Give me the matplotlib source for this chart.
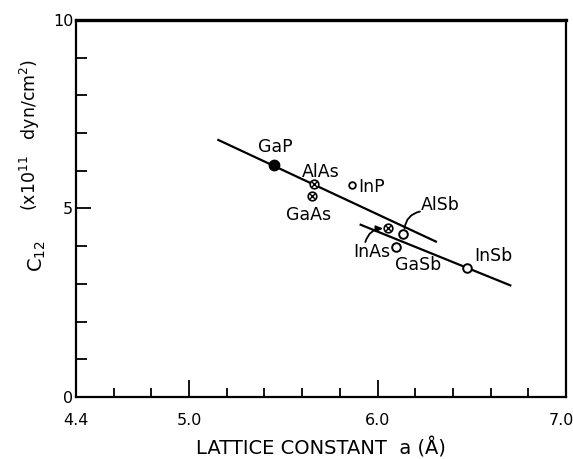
import matplotlib
matplotlib.use("Agg")
import matplotlib.pyplot as plt
from matplotlib.ticker import MultipleLocator, FixedLocator

# Lattice constant a (Angstrom) and C12 (x10^11 dyn/cm^2) for III-V compounds
compounds = ["GaP", "AlAs", "GaAs", "InP", "InAs", "AlSb", "GaSb", "InSb"]
lattice_a = [5.45, 5.665, 5.65, 5.865, 6.057, 6.135, 6.10, 6.475]
c12 = [6.15, 5.66, 5.32, 5.62, 4.47, 4.33, 3.98, 3.42]
marker_kind = ["filled", "crossed", "crossed", "small", "crossed", "open", "open", "open"]

# Trend lines (phosphides/arsenides and antimonides)
upper_line_x = [5.15, 6.315]
upper_line_y = [6.83, 4.11]
lower_line_x = [5.905, 6.71]
lower_line_y = [4.58, 2.95]

x_major = [5.0, 6.0]
x_tick_values = [4.4, 5.0, 6.0, 7.0]
x_tick_labels = ["4.4", "5.0", "6.0", "7.0"]

fig = plt.figure(figsize=(5.73, 4.59), dpi=100)
ax = fig.add_axes([76 / 573, 1 - 397 / 459, (566 - 76) / 573, (397 - 20) / 459])
ax.set_xlim(4.4, 7.0)
ax.set_ylim(0, 10)

lw = 1.6
ax.plot(upper_line_x, upper_line_y, color="black", lw=lw, solid_capstyle="butt")
ax.plot(lower_line_x, lower_line_y, color="black", lw=lw, solid_capstyle="butt")

for x, y, kind in zip(lattice_a, c12, marker_kind):
    if kind == "filled":
        ax.plot(x, y, "o", ms=7.5, color="black", zorder=5)
    elif kind == "crossed":
        ax.plot(x, y, "o", ms=6.2, mfc="white", mec="black", mew=1.2, zorder=5)
        ax.plot(x, y, "x", ms=4.0, color="black", mew=1.0, zorder=6)
    elif kind == "small":
        ax.plot(x, y, "o", ms=4.8, mfc="white", mec="black", mew=1.3, zorder=5)
    else:
        ax.plot(x, y, "o", ms=6.2, mfc="white", mec="black", mew=1.4, zorder=5)

fs = 12.5
label_pos = {
    "GaP": (5.457, 6.63, "center"),
    "AlAs": (5.70, 5.97, "center"),
    "InP": (5.90, 5.57, "left"),
    "GaAs": (5.633, 4.82, "center"),
    "AlSb": (6.232, 5.08, "left"),
    "InAs": (5.969, 3.85, "center"),
    "GaSb": (6.216, 3.49, "center"),
    "InSb": (6.614, 3.73, "center"),
}
for name in compounds:
    tx, ty, ha = label_pos[name]
    ax.text(tx, ty, name, fontsize=fs, ha=ha, va="center")

# Leader lines for the crowded labels
ax.annotate("", xy=(6.143, 4.47), xytext=(6.225, 4.92),
            arrowprops=dict(arrowstyle="-", lw=1.3, color="black",
                            connectionstyle="arc3,rad=0.35", shrinkA=0, shrinkB=0))
ax.annotate("", xy=(6.03, 4.47), xytext=(5.935, 4.11),
            arrowprops=dict(arrowstyle="-|>,head_length=0.4,head_width=0.18", lw=1.3,
                            color="black", connectionstyle="arc3,rad=-0.35",
                            shrinkA=0, shrinkB=0))

# Axes frame and ticks
for side in ["left", "bottom", "right"]:
    ax.spines[side].set_linewidth(1.6)
ax.spines["top"].set_linewidth(2.4)

ax.xaxis.set_major_locator(FixedLocator(x_major))
ax.xaxis.set_minor_locator(MultipleLocator(0.2))
ax.set_xticklabels([])
ax.tick_params(axis="x", which="major", direction="in", length=12, width=1.3, top=False)
ax.tick_params(axis="x", which="minor", direction="in", length=6.5, width=1.3, top=False)

ax.yaxis.set_major_locator(MultipleLocator(5))
ax.yaxis.set_minor_locator(MultipleLocator(1))
ax.tick_params(axis="y", which="major", direction="in", length=11, width=1.3,
               right=False, labelsize=11.5, pad=2)
ax.tick_params(axis="y", which="minor", direction="in", length=8, width=1.3, right=False)

for xv, lab in zip(x_tick_values, x_tick_labels):
    ax.text(min(xv, 6.975), -0.62, lab, fontsize=11.5, ha="center", va="center",
            clip_on=False)

ax.set_xlabel("LATTICE CONSTANT  a (Å)", fontsize=14, labelpad=26)

fig.text(37 / 573, 1 - 256 / 459, "C$_{12}$", fontsize=14, rotation=90,
         ha="center", va="center")
fig.text(30 / 573, 1 - 135 / 459, "(x10$^{11}$   dyn/cm$^2$)", fontsize=12.5,
         rotation=90, ha="center", va="center")

fig.savefig("out.png", dpi=100)
